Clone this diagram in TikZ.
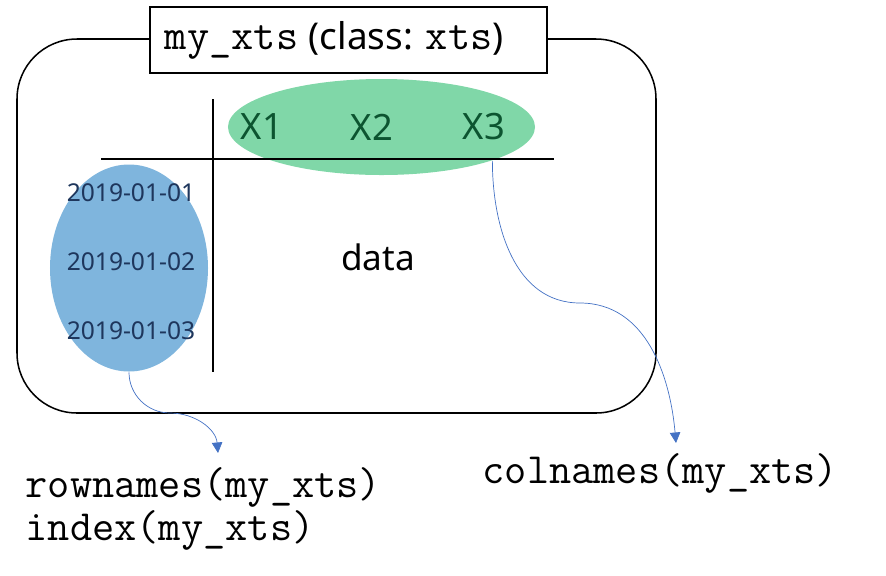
\documentclass[tikz,border=0pt]{standalone}
\usepackage{fontspec}
\setmainfont{Noto Sans}
\usetikzlibrary{arrows.meta,shapes.geometric,positioning}
\definecolor{colgreen}{RGB}{128,215,168}
\definecolor{rowblue}{RGB}{127,181,221}
\definecolor{darkgreen}{RGB}{12,84,48}
\definecolor{navy}{RGB}{30,54,92}
\definecolor{linkblue}{RGB}{68,114,196}
\newcommand{\codesize}{\fontsize{36.8}{42}\selectfont}
\newcommand{\labelsize}{\fontsize{30}{36}\selectfont}
\newcommand{\titlesize}{\fontsize{31.5}{36}\selectfont}

\begin{document}
\begin{tikzpicture}[x=0.03cm,y=-0.03cm,line width=1.3pt,col name/.style={font=\fontsize{31}{36}\selectfont,text=darkgreen},row name/.style={font=\fontsize{21}{25}\selectfont,text=navy},code/.style={anchor=base west,font=\codesize\ttfamily,inner sep=0},link/.style={-{Triangle[length=9pt,width=9pt]},draw=linkblue,line width=0.6pt}]
            \useasboundingbox (0,0) rectangle (886,575);
            \draw[rounded corners=1.8cm] (17,39) rectangle (656,413);
            \node[draw, fill=white, text width=11.01cm, align=left, inner xsep=0.45cm, minimum height=1.98cm] (title) at (348.5,40) {\codesize\texttt{my\_xts}\hspace*{9pt}{\titlesize(class:}\hspace*{11pt}\texttt{xts}{\titlesize)}};

            \node[ellipse, fill=colgreen, minimum width=9.21cm, minimum height=2.88cm] (cols) at (381.5,127) {};
            \node[ellipse, fill=rowblue, minimum width=4.74cm, minimum height=6.21cm] (rows) at (129,268) {};
            \draw (101,159) -- (554,159);
            \draw (213,99) -- (213,372);

            \node[col name] (x1) at (262,127) {X1};
            \node[col name] (x2) at (372,127) {X2};
            \node[col name] (x3) at (484,127) {X3};
            \node[row name] (d1) at (131,193) {2019-01-01};
            \node[row name] (d2) at (131,262) {2019-01-02};
            \node[row name] (d3) at (131,331) {2019-01-03};
            \node[font=\labelsize] (data) at (378,257) {data};

            \node[code] (rowfun) at (25,497) {rownames(my\_xts)};
            \node[code] (idxfun) at (25,540) {index(my\_xts)};
            \node[code] (colfun) at (482,483) {colnames(my\_xts)};
            \coordinate (rowtip) at (218,453);
            \coordinate (coltip) at (676,443);
            \coordinate (rowbend) at (170,413);
            \coordinate (colbend) at (580,303);

            \draw[link] (rows.south) to[out=-90, in=180] (rowbend) to[out=0, in=95] (rowtip);
            \draw[link] (cols.-17) to[out=-90, in=180] (colbend) to[out=0, in=95] (coltip);
        \end{tikzpicture}
\end{document}
